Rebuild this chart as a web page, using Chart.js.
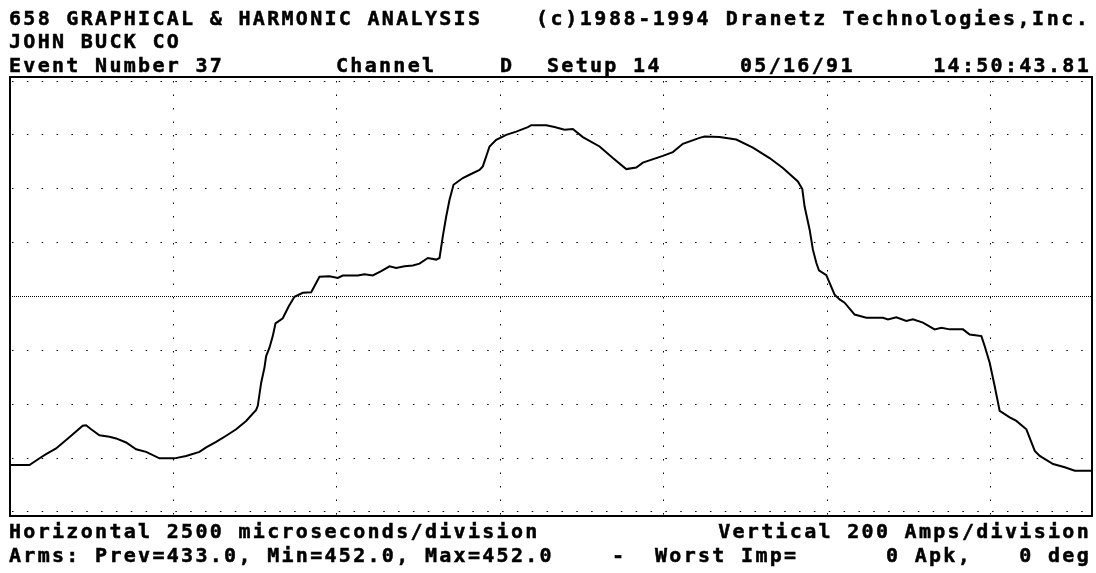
<!DOCTYPE html>
<html>
<head>
<meta charset="utf-8">
<script src="https://cdn.jsdelivr.net/npm/chart.js@4/dist/chart.umd.min.js"></script>
<style>
  html, body { margin: 0; padding: 0; background: #fff; }
  #screen { position: relative; width: 1096px; height: 573px; overflow: hidden; }
  #screen canvas { position: absolute; left: 0; top: 0; }
  .txt {
    position: absolute;
    font-family: "DejaVu Sans Mono", monospace;
    font-weight: bold;
    font-size: 20px;
    line-height: 20px;
    letter-spacing: 2.3px;
    white-space: pre;
    color: #000;
    -webkit-text-stroke: 0.5px #000;
  }
</style>
</head>
<body>
<div id="screen">
  <canvas id="scope" width="1096" height="573"></canvas>

  <div class="txt" style="left:9px; top:8px">658 GRAPHICAL &amp; HARMONIC ANALYSIS</div>
  <div class="txt" style="left:536px; top:8px; letter-spacing:2.55px">(c)1988-1994 Dranetz Technologies,Inc.</div>
  <div class="txt" style="left:9px; top:31px">JOHN BUCK CO</div>
  <div class="txt" style="left:9px; top:55px">Event Number 37</div>
  <div class="txt" style="left:336px; top:55px">Channel</div>
  <div class="txt" style="left:500px; top:55px">D</div>
  <div class="txt" style="left:547px; top:55px">Setup 14</div>
  <div class="txt" style="left:740px; top:55px">05/16/91</div>
  <div class="txt" style="right:5px; top:55px">14:50:43.81</div>

  <div class="txt" style="left:9px; top:521px">Horizontal 2500 microseconds/division</div>
  <div class="txt" style="right:5px; top:521px">Vertical 200 Amps/division</div>
  <div class="txt" style="left:9px; top:545px">Arms: Prev=433.0, Min=452.0, Max=452.0</div>
  <div class="txt" style="left:612px; top:545px">-</div>
  <div class="txt" style="left:655px; top:545px">Worst Imp=</div>
  <div class="txt" style="left:886px; top:545px">0 Apk,</div>
  <div class="txt" style="right:5px; top:545px">0 deg</div>
</div>

<script>
// captured waveform, time from left edge of screen (microseconds) and current (A)
const timeUs = [
  0, 297, 476, 552, 705, 935, 1112, 1164, 1241, 1368,
  1521, 1623, 1776, 1929, 2082, 2286, 2515, 2694, 2898, 3000,
  3153, 3306, 3459, 3612, 3765, 3790, 3842, 3892, 3918, 3969,
  4019, 4061, 4172, 4264, 4351, 4478, 4607, 4734, 4887, 5014,
  5090, 5320, 5422, 5549, 5678, 5805, 5907, 6034, 6161, 6264,
  6391, 6519, 6570, 6620, 6672, 6723, 6784, 6926, 7029, 7182,
  7232, 7335, 7437, 7590, 7743, 7921, 7973, 8203, 8329, 8482,
  8609, 8762, 9018, 9221, 9426, 9579, 9680, 9986, 10139, 10292,
  10547, 10624, 10854, 11109, 11363, 11618, 11822, 12051, 12119, 12154,
  12231, 12281, 12333, 12373, 12486, 12613, 12690, 12766, 12919, 13098,
  13352, 13429, 13557, 13710, 13811, 13964, 14143, 14246, 14373, 14577,
  14679, 14858, 14908, 14985, 15061, 15138, 15291, 15393, 15546, 15675,
  15751, 15955, 16134, 16287, 16547
];
const amps = [
  -626, -626, -597, -585, -564, -517, -480, -478, -493, -515,
  -521, -527, -542, -567, -577, -601, -601, -592, -577, -560,
  -540, -517, -493, -462, -421, -406, -320, -264, -221, -190,
  -147, -100, -81, -36, -1, 14, 16, 73, 75, 69,
  78, 78, 83, 78, 94, 112, 106, 112, 115, 122,
  143, 137, 143, 223, 297, 359, 415, 440, 452, 470,
  483, 557, 582, 600, 612, 629, 636, 636, 629, 619,
  622, 592, 557, 514, 473, 479, 497, 522, 536, 567,
  589, 594, 592, 583, 553, 514, 477, 427, 399, 334,
  248, 174, 125, 97, 79, 7, -11, -23, -67, -79,
  -79, -85, -77, -91, -85, -97, -122, -116, -122, -122,
  -141, -147, -184, -246, -332, -425, -449, -462, -493, -573,
  -592, -622, -634, -647, -647
];

// 2500 us/division across, 200 A/division up and down
const xDivisionsUs = [2500, 5000, 7500, 10000, 12500, 15000];
const yDivisionsAmps = [-800, -600, -400, -200, 200, 400, 600, 800];
const yCenterAmps = [0];
const screenSpanUs = 16550;
const screenSpanAmps = 815;

// box round the trace
const framePlugin = {
  id: "frame",
  afterDraw: (chart) => {
    const { ctx, chartArea } = chart;
    ctx.save();
    ctx.lineWidth = 2;
    ctx.strokeStyle = "#000";
    ctx.strokeRect(chartArea.left, chartArea.top, chartArea.right - chartArea.left, chartArea.bottom - chartArea.top);
    ctx.restore();
  },
};

const setTicks = (values) => (axis) => {
  axis.ticks = values.map((v) => ({ value: v }));
};

new Chart(document.getElementById("scope").getContext("2d"), {
  type: "line",
  data: {
    datasets: [
      {
        label: "Channel D",
        data: timeUs.map((t, i) => ({ x: t, y: amps[i] })),
        borderColor: "#000",
        borderWidth: 2,
        pointRadius: 0,
        tension: 0,
        fill: false,
      },
    ],
  },
  options: {
    responsive: false,
    animation: false,
    devicePixelRatio: 1,
    layout: {
      padding: { left: 10, top: 77, right: 4, bottom: 57 },
    },
    scales: {
      x: {
        type: "linear",
        min: 0,
        max: screenSpanUs,
        afterBuildTicks: setTicks(xDivisionsUs),
        ticks: { display: false },
        grid: { color: "#000", lineWidth: 1, drawTicks: false },
        border: { display: false, dash: [1.5, 12], dashOffset: 9.5 },
      },
      y: {
        min: -screenSpanAmps,
        max: screenSpanAmps,
        afterBuildTicks: setTicks(yDivisionsAmps),
        ticks: { display: false },
        grid: { color: "#000", lineWidth: 1, drawTicks: false },
        border: { display: false, dash: [1.5, 13.35], dashOffset: 12.85 },
      },
      // the zero line is drawn denser than the others
      yZero: {
        position: "left",
        min: -screenSpanAmps,
        max: screenSpanAmps,
        afterBuildTicks: setTicks(yCenterAmps),
        ticks: { display: false },
        grid: { color: "#000", lineWidth: 1, drawTicks: false },
        border: { display: false, dash: [1, 1] },
      },
    },
    plugins: {
      legend: { display: false },
      tooltip: { enabled: false },
    },
  },
  plugins: [framePlugin],
});
</script>
</body>
</html>
